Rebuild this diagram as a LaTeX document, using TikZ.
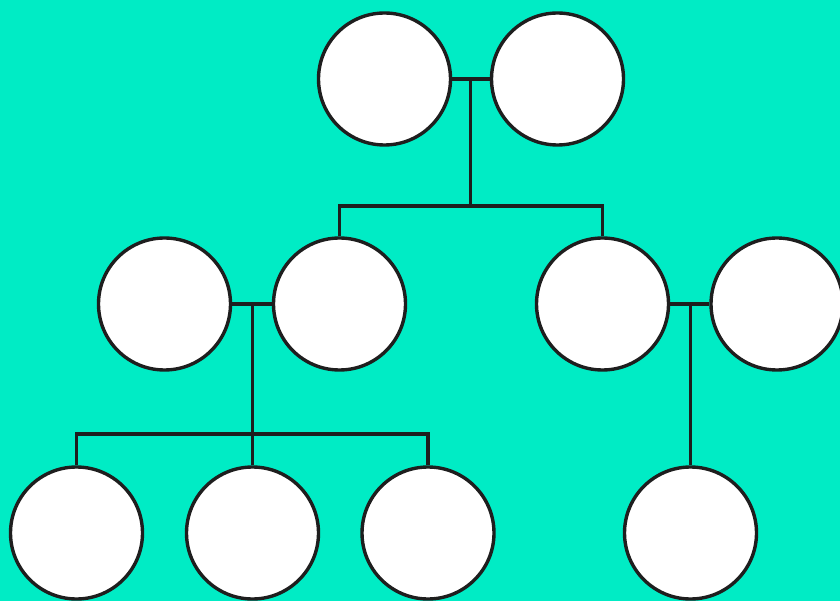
\documentclass[tikz,border=0pt]{standalone}
\definecolor{bg}{HTML}{00ECC5}
\definecolor{ink}{HTML}{1E1E1E}
\begin{document}
\begin{tikzpicture}[x=1pt,y=-1pt,
  person/.style={circle,draw=ink,fill=white,line width=3.4pt,minimum size=132pt,inner sep=0pt},
  link/.style={draw=ink,line width=3.4pt}]
\useasboundingbox (0,0) rectangle (840,601);
\fill[bg] (0,0) rectangle (840,601);
\clip (0,0) rectangle (840,601);
% nodes
\node[person] (gp1) at (384.5,79) {};
\node[person] (gp2) at (557.5,79) {};
\node[person] (p1) at (164.5,304) {};
\node[person] (p2) at (339.5,304) {};
\node[person] (p3) at (602.5,304) {};
\node[person] (p4) at (777,304) {};
\node[person] (c1) at (76.5,533) {};
\node[person] (c2) at (252.5,533) {};
\node[person] (c3) at (428,533) {};
\node[person] (c4) at (690.5,533) {};
% junctions
\coordinate (j1) at (470.5,79);
\coordinate (b1) at (470.5,206);
\coordinate (j2) at (252.5,304);
\coordinate (b2) at (252.5,434);
\coordinate (j3) at (690.5,304);
% connectors
\draw[link] (gp1.east) -- (gp2.west);
\draw[link] (j1) -- (b1);
\draw[link] (p2.north) |- (b1);
\draw[link] (p3.north) |- (b1);
\draw[link] (p1.east) -- (p2.west);
\draw[link] (j2) -- (b2);
\draw[link] (c1.north) |- (b2);
\draw[link] (c3.north) |- (b2);
\draw[link] (c2.north) -- (b2);
\draw[link] (p3.east) -- (p4.west);
\draw[link] (j3) -- (c4.north);
\end{tikzpicture}
\end{document}
